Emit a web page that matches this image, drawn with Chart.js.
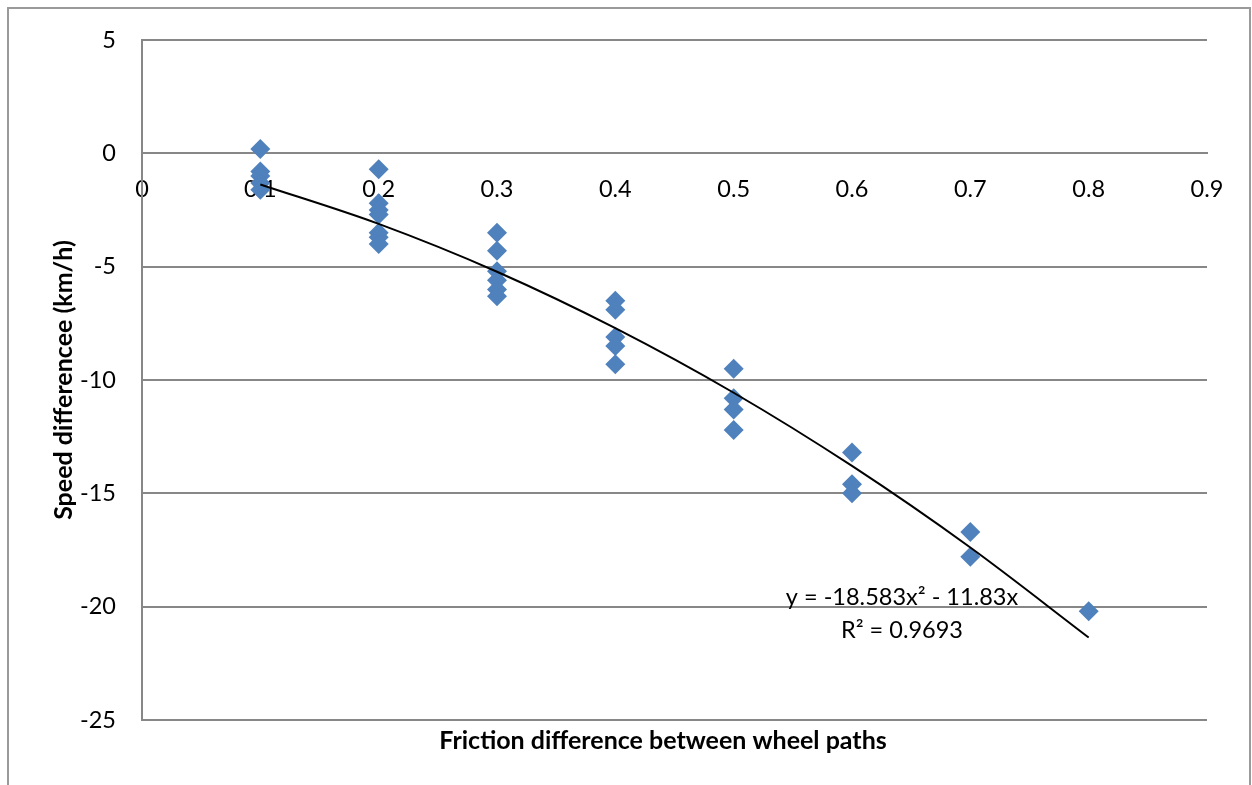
<!DOCTYPE html>
<html>
<head>
<meta charset="utf-8">
<script src="https://cdn.jsdelivr.net/npm/chart.js@4.4.1/dist/chart.umd.min.js"></script>
<style>
  html, body { margin: 0; padding: 0; background: #fff; }
  #wrap { width: 1252px; height: 785px; }
</style>
</head>
<body>
<div id="wrap"><canvas id="frictionChart" width="1252" height="785"></canvas></div>
<script>
// data
var frictionDiff = [0.1, 0.1, 0.1, 0.1, 0.1,
                    0.2, 0.2, 0.2, 0.2, 0.2, 0.2, 0.2,
                    0.3, 0.3, 0.3, 0.3, 0.3, 0.3,
                    0.4, 0.4, 0.4, 0.4, 0.4,
                    0.5, 0.5, 0.5, 0.5,
                    0.6, 0.6, 0.6,
                    0.7, 0.7,
                    0.8];
var speedDiff = [0.2, -0.8, -1.0, -1.3, -1.6,
                 -0.7, -2.2, -2.5, -2.7, -3.5, -3.7, -4.0,
                 -3.5, -4.3, -5.2, -5.6, -6.0, -6.3,
                 -6.5, -6.9, -8.1, -8.5, -9.3,
                 -9.5, -10.8, -11.3, -12.2,
                 -13.2, -14.6, -15.0,
                 -16.7, -17.8,
                 -20.2];
// trend curve, read at each 0.1 step
var trendX = [0.1, 0.2, 0.3, 0.4, 0.5, 0.6, 0.7, 0.8];
var trendY = [-1.37, -3.11, -5.22, -7.71, -10.56, -13.79, -17.39, -21.36];
var xTickLabels = ['0', '0.1', '0.2', '0.3', '0.4', '0.5', '0.6', '0.7', '0.8', '0.9'];
var trendLabel = 'y = -18.583x\u00B2 - 11.83x';
var r2Label = 'R\u00B2 = 0.9693';

var fontName = 'Lato, "Open Sans", sans-serif';
var gridGrey = '#878787';

function toPoints(xs, ys) {
    return xs.map(function (x, i) { return { x: x, y: ys[i] }; });
}

// frame, x title and trendline equation
var extrasPlugin = {
    id: 'extras',
    beforeDraw: function (chart) {
        var ctx = chart.ctx;
        ctx.save();
        ctx.fillStyle = '#fff';
        ctx.fillRect(0, 0, chart.width, chart.height);
        ctx.strokeStyle = '#9a9a9a';
        ctx.lineWidth = 2;
        ctx.strokeRect(8, 8, 1242, 800);
        ctx.restore();
    },
    afterDraw: function (chart) {
        var ctx = chart.ctx;
        ctx.save();
        ctx.fillStyle = '#000';
        ctx.textAlign = 'center';
        ctx.textBaseline = 'middle';
        ctx.font = 'bold 25px ' + fontName;
        ctx.fillText('Friction difference between wheel paths', 663, 741);
        ctx.font = '23.5px ' + fontName;
        ctx.fillText(trendLabel, 902, 597);
        ctx.fillText(r2Label, 902, 630);
        ctx.restore();
    }
};

var ctxFriction = document.getElementById('frictionChart').getContext('2d');
var frictionChart = new Chart(ctxFriction, {
    type: 'scatter',
    data: {
        datasets: [{
            label: 'Speed difference',
            data: toPoints(frictionDiff, speedDiff),
            pointStyle: 'rectRot',
            pointRadius: 10,
            pointHoverRadius: 10,
            backgroundColor: '#4F81BD',
            borderColor: '#4F81BD',
            borderWidth: 0,
            order: 1
        }, {
            type: 'line',
            label: 'Trend',
            data: toPoints(trendX, trendY),
            borderColor: '#000',
            borderWidth: 2,
            pointRadius: 0,
            fill: false,
            cubicInterpolationMode: 'monotone',
            order: 0
        }]
    },
    options: {
        responsive: false,
        animation: false,
        layout: { padding: { left: 0, top: 36, right: 45, bottom: 65 } },
        plugins: {
            legend: { display: false },
            tooltip: { enabled: false }
        },
        scales: {
            x: {
                type: 'linear',
                position: { y: 0 },
                min: 0,
                max: 0.9,
                grid: { display: false, drawTicks: false },
                border: { display: true, color: gridGrey, width: 2 },
                ticks: {
                    stepSize: 0.1,
                    padding: 22,
                    color: '#000',
                    maxRotation: 0,
                    font: { family: fontName, size: 23.5 },
                    callback: function (v, i) { return xTickLabels[i]; }
                }
            },
            y: {
                min: -25,
                max: 5,
                grid: { color: gridGrey, lineWidth: 2, drawTicks: false },
                border: { display: true, color: gridGrey, width: 2 },
                ticks: {
                    stepSize: 5,
                    padding: 26,
                    color: '#000',
                    font: { family: fontName, size: 23.5 }
                },
                title: {
                    display: true,
                    text: 'Speed differencee (km/h)',
                    color: '#000',
                    font: { family: fontName, size: 25, weight: 'bold' },
                    padding: { top: 49, bottom: 0 }
                },
                afterFit: function (scale) { scale.width = 142; }
            }
        }
    },
    plugins: [extrasPlugin]
});
</script>
</body>
</html>
